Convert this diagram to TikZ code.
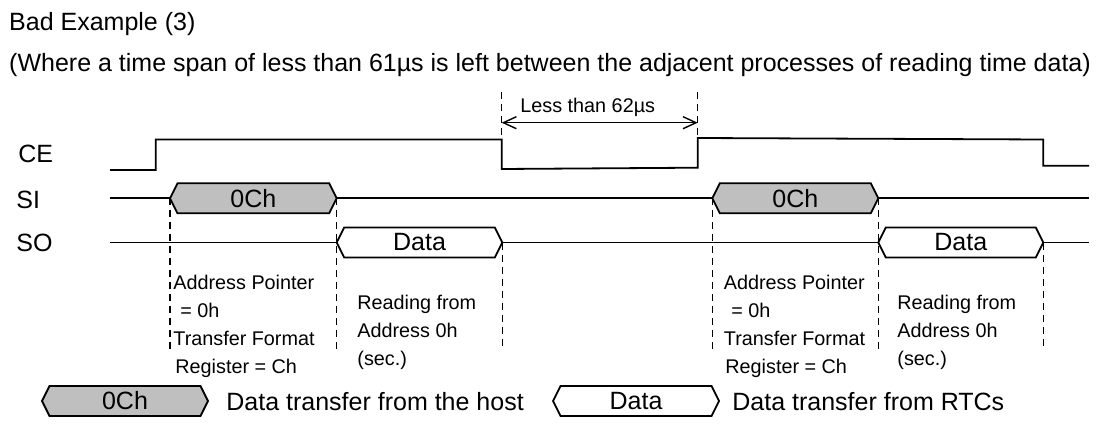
\documentclass[tikz,border=0pt]{standalone}
\usepackage{fontspec}
\setmainfont{Liberation Sans}
\usetikzlibrary{arrows.meta}
\definecolor{hostgray}{gray}{0.75}
\tikzset{
  >={Straight Barb[length=6.5pt,width=6pt]},
  x=0.5pt, y=-0.5pt,
}
\tikzstyle{signal}=[line width=0.9pt]
\tikzstyle{guide}=[line width=0.75pt,dash pattern=on 3.5pt off 2.5pt]
\tikzstyle{every node}=[inner sep=0pt,font=\fontsize{12.5}{15}\selectfont]
\tikzstyle{caption}=[anchor=base west]
\tikzstyle{note}=[anchor=base west,font=\fontsize{9.9}{12}\selectfont]
% bus value: name, left, right, level, fill, text
\newcommand{\bushex}[6]{%
  \draw[signal,fill=#5] (#2,#4) -- (#2+7.5,#4-15) -- (#3-7.5,#4-15)
    -- (#3,#4) -- (#3-7.5,#4+15) -- (#2+7.5,#4+15) -- cycle;
  \node (#1) at ({(#2+#3)/2},#4) {#6};
}

\begin{document}
\begin{tikzpicture}
  \useasboundingbox (0,0) rectangle (1096,427);
  \node[caption] (title) at (8.8,31) {Bad Example (3)};
  \node[caption] (subtitle) at (8.8,72)
    {(Where a time span of less than 61µs is left between the adjacent processes of reading time data)};

  \node[caption] (ce) at (18,163) {CE};
  \node[caption] (si) at (16,208) {SI};
  \node[caption] (so) at (16,251) {SO};

  % CE
  \coordinate (ceFall) at (501.7,139.5);
  \coordinate (ceRise) at (697.7,138);
  \draw[signal] (110,170) -- (155.7,170) -- (155.7,139.5) -- (ceFall)
    -- (501.7,169) -- (697.7,167.7) -- (ceRise) -- (1043.3,139.5)
    -- (1043.3,165.7) -- (1089,165.7);
  \draw[guide] (501.7,92) -- (ceFall);
  \draw[guide] (697.7,92) -- (ceRise);
  \coordinate (spanL) at (501.7,122.7);
  \coordinate (spanR) at (697.7,122.7);
  \draw[<->,line width=0.7pt] (spanL) -- (spanR);
  \node[note] (span) at (520,112.7) {Less than 62µs};

  % SI and SO
  \draw[signal] (110,198.3) -- (1089,198.3);
  \draw[signal] (110,242.5) -- (1089,242.5);
  \foreach \gx in {170,336.7,712.3,878.3}
    \draw[guide] (\gx,198.3) -- (\gx,350);
  \foreach \gx in {502.3,1043.3}
    \draw[guide] (\gx,242.5) -- (\gx,350);
  \bushex{cmdA}{170}{336.7}{198.3}{hostgray}{0Ch}
  \bushex{cmdB}{712.3}{878.3}{198.3}{hostgray}{0Ch}
  \bushex{datA}{336.7}{502.3}{242.5}{white}{Data}
  \bushex{datB}{878.3}{1043.3}{242.5}{white}{Data}

  % notes
  \node[note] (ptrA) at (173,289) {Address Pointer};
  \node[note] (eqA) at (180,317) {= 0h};
  \node[note] (fmtA) at (173,345) {Transfer Format};
  \node[note] (regA) at (175,373) {Register = Ch};
  \node[note] (rdA) at (357,309) {Reading from};
  \node[note] (adrA) at (357,337) {Address 0h};
  \node[note] (secA) at (357,365) {(sec.)};
  \node[note] (ptrB) at (723.5,289) {Address Pointer};
  \node[note] (eqB) at (731,317) {= 0h};
  \node[note] (fmtB) at (723.5,345) {Transfer Format};
  \node[note] (regB) at (725,373) {Register = Ch};
  \node[note] (rdB) at (897,309) {Reading from};
  \node[note] (adrB) at (897,337) {Address 0h};
  \node[note] (secB) at (897,365) {(sec.)};

  % legend
  \bushex{keyHost}{42}{208}{401}{hostgray}{0Ch}
  \node[caption] (keyHostText) at (226,410) {Data transfer from the host};
  \bushex{keyRtc}{553}{719}{401}{white}{Data}
  \node[caption] (keyRtcText) at (732,410) {Data transfer from RTCs};
\end{tikzpicture}
\end{document}
